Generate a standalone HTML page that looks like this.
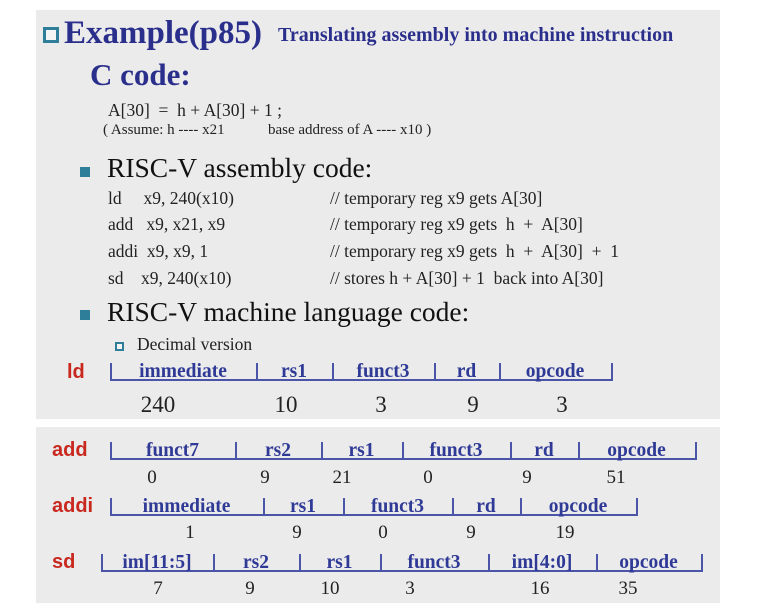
<!DOCTYPE html>
<html><head><meta charset="utf-8"><style>
body{margin:0;width:773px;height:616px;background:#fff;position:relative;overflow:hidden;font-family:"Liberation Serif",serif}
.p{position:absolute;background:#ebebeb}
.t{position:absolute;line-height:1;white-space:pre}
.b{position:absolute;width:1.5px;background:#4a55a8}
.h{position:absolute;height:1.5px;background:#4a55a8}
.f{position:absolute;line-height:1;text-align:center;font-weight:bold;font-size:19.5px;color:#2f3a96;white-space:pre}
.n{position:absolute;line-height:1;text-align:center;font-size:19px;color:#222;width:40px}
.r{position:absolute;line-height:1;font-family:"Liberation Sans",sans-serif;font-weight:bold;font-size:20px;color:#c8281e}
</style></head><body>
<div class="p" style="left:36px;top:10px;width:684px;height:409px"></div>
<div class="p" style="left:36px;top:427px;width:684px;height:176px"></div>

<div style="position:absolute;left:43px;top:27px;width:10px;height:10px;border:3px solid #2e7d99;background:#f4f4f4"></div>
<div class="t" style="left:64px;top:17px;font-size:33px;font-weight:bold;color:#2b2f8c">Example(p85)</div>
<div class="t" style="left:278px;top:25px;font-size:20px;font-weight:bold;color:#2b2f8c">Translating assembly into machine instruction</div>
<div class="t" style="left:90px;top:59px;font-size:31px;font-weight:bold;color:#2b2f8c">C code:</div>
<div class="t" style="left:108px;top:102px;font-size:17.5px;color:#222">A[30]  =  h + A[30] + 1 ;</div>
<div class="t" style="left:103px;top:123px;font-size:15px;color:#222">( Assume: h ---- x21</div>
<div class="t" style="left:268px;top:123px;font-size:15px;color:#222">base address of A ---- x10 )</div>

<div style="position:absolute;left:80px;top:167px;width:10px;height:10px;background:#2e7d99"></div>
<div class="t" style="left:107px;top:154px;font-size:27.5px;color:#111">RISC-V assembly code:</div>
<div class="t" style="left:108px;top:190px;font-size:17.5px;color:#222">ld     x9, 240(x10)</div>
<div class="t" style="left:108px;top:216px;font-size:17.5px;color:#222">add   x9, x21, x9</div>
<div class="t" style="left:108px;top:243px;font-size:17.5px;color:#222">addi  x9, x9, 1</div>
<div class="t" style="left:108px;top:270px;font-size:17.5px;color:#222">sd    x9, 240(x10)</div>
<div class="t" style="left:330px;top:190px;font-size:17.5px;color:#222">// temporary reg x9 gets A[30]</div>
<div class="t" style="left:330px;top:216px;font-size:17.5px;color:#222">// temporary reg x9 gets  h  +  A[30]</div>
<div class="t" style="left:330px;top:243px;font-size:17.5px;color:#222">// temporary reg x9 gets  h  +  A[30]  +  1</div>
<div class="t" style="left:330px;top:270px;font-size:17.5px;color:#222">// stores h + A[30] + 1  back into A[30]</div>

<div style="position:absolute;left:80px;top:310px;width:10px;height:10px;background:#2e7d99"></div>
<div class="t" style="left:107px;top:298px;font-size:27.5px;color:#111">RISC-V machine language code:</div>
<div style="position:absolute;left:115px;top:342px;width:5px;height:5px;border:2px solid #2e7d99;background:#f4f4f4"></div>
<div class="t" style="left:137px;top:336px;font-size:17.5px;color:#222">Decimal version</div>

<!-- ld -->
<div class="r" style="left:67px;top:362px">ld</div>
<div class="h" style="left:110px;top:379px;width:502px"></div>
<div class="b" style="left:110px;top:363px;height:18px"></div><div class="b" style="left:256px;top:363px;height:18px"></div><div class="b" style="left:332px;top:363px;height:18px"></div><div class="b" style="left:434px;top:363px;height:18px"></div><div class="b" style="left:499px;top:363px;height:18px"></div><div class="b" style="left:611px;top:363px;height:18px"></div>
<div class="f" style="left:110px;top:362px;width:146px">immediate</div>
<div class="f" style="left:256px;top:362px;width:76px">rs1</div>
<div class="f" style="left:332px;top:362px;width:102px">funct3</div>
<div class="f" style="left:434px;top:362px;width:65px">rd</div>
<div class="f" style="left:499px;top:362px;width:112px">opcode</div>
<div class="n" style="left:138px;top:393px;font-size:23px">240</div>
<div class="n" style="left:266px;top:393px;font-size:23px">10</div>
<div class="n" style="left:361px;top:393px;font-size:23px">3</div>
<div class="n" style="left:453px;top:393px;font-size:23px">9</div>
<div class="n" style="left:542px;top:393px;font-size:23px">3</div>

<!-- add -->
<div class="r" style="left:52px;top:440px">add</div>
<div class="h" style="left:110px;top:458px;width:586px"></div>
<div class="b" style="left:110px;top:442px;height:18px"></div><div class="b" style="left:235px;top:442px;height:18px"></div><div class="b" style="left:321px;top:442px;height:18px"></div><div class="b" style="left:402px;top:442px;height:18px"></div><div class="b" style="left:510px;top:442px;height:18px"></div><div class="b" style="left:578px;top:442px;height:18px"></div><div class="b" style="left:695px;top:442px;height:18px"></div>
<div class="f" style="left:110px;top:441px;width:125px">funct7</div>
<div class="f" style="left:235px;top:441px;width:86px">rs2</div>
<div class="f" style="left:321px;top:441px;width:81px">rs1</div>
<div class="f" style="left:402px;top:441px;width:108px">funct3</div>
<div class="f" style="left:510px;top:441px;width:68px">rd</div>
<div class="f" style="left:578px;top:441px;width:117px">opcode</div>
<div class="n" style="left:132px;top:468px">0</div>
<div class="n" style="left:245px;top:468px">9</div>
<div class="n" style="left:322px;top:468px">21</div>
<div class="n" style="left:408px;top:468px">0</div>
<div class="n" style="left:507px;top:468px">9</div>
<div class="n" style="left:596px;top:468px">51</div>

<!-- addi -->
<div class="r" style="left:52px;top:496px">addi</div>
<div class="h" style="left:110px;top:514px;width:527px"></div>
<div class="b" style="left:110px;top:498px;height:18px"></div><div class="b" style="left:263px;top:498px;height:18px"></div><div class="b" style="left:343px;top:498px;height:18px"></div><div class="b" style="left:452px;top:498px;height:18px"></div><div class="b" style="left:520px;top:498px;height:18px"></div><div class="b" style="left:636px;top:498px;height:18px"></div>
<div class="f" style="left:110px;top:497px;width:153px">immediate</div>
<div class="f" style="left:263px;top:497px;width:80px">rs1</div>
<div class="f" style="left:343px;top:497px;width:109px">funct3</div>
<div class="f" style="left:452px;top:497px;width:68px">rd</div>
<div class="f" style="left:520px;top:497px;width:116px">opcode</div>
<div class="n" style="left:170px;top:523px">1</div>
<div class="n" style="left:277px;top:523px">9</div>
<div class="n" style="left:363px;top:523px">0</div>
<div class="n" style="left:451px;top:523px">9</div>
<div class="n" style="left:545px;top:523px">19</div>

<!-- sd -->
<div class="r" style="left:52px;top:552px">sd</div>
<div class="h" style="left:101px;top:570px;width:601px"></div>
<div class="b" style="left:101px;top:554px;height:18px"></div><div class="b" style="left:213px;top:554px;height:18px"></div><div class="b" style="left:299px;top:554px;height:18px"></div><div class="b" style="left:380px;top:554px;height:18px"></div><div class="b" style="left:488px;top:554px;height:18px"></div><div class="b" style="left:596px;top:554px;height:18px"></div><div class="b" style="left:701px;top:554px;height:18px"></div>
<div class="f" style="left:101px;top:553px;width:112px">im[11:5]</div>
<div class="f" style="left:213px;top:553px;width:86px">rs2</div>
<div class="f" style="left:299px;top:553px;width:81px">rs1</div>
<div class="f" style="left:380px;top:553px;width:108px">funct3</div>
<div class="f" style="left:488px;top:553px;width:108px">im[4:0]</div>
<div class="f" style="left:596px;top:553px;width:105px">opcode</div>
<div class="n" style="left:138px;top:579px">7</div>
<div class="n" style="left:230px;top:579px">9</div>
<div class="n" style="left:310px;top:579px">10</div>
<div class="n" style="left:390px;top:579px">3</div>
<div class="n" style="left:520px;top:579px">16</div>
<div class="n" style="left:608px;top:579px">35</div>
</body></html>
